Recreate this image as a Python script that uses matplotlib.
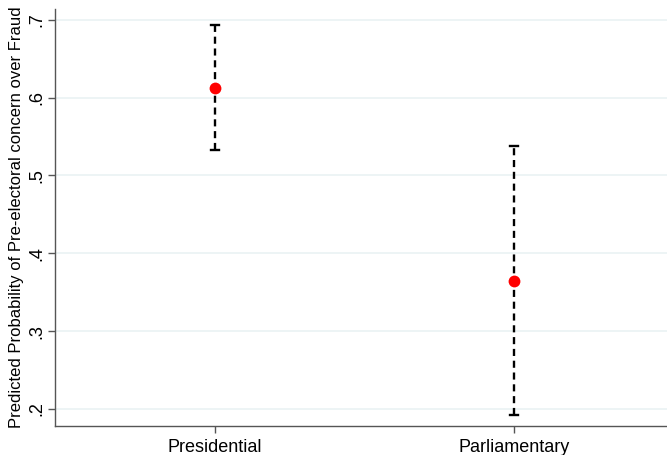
import matplotlib
matplotlib.use("Agg")
import matplotlib.pyplot as plt
import numpy as np

plt.rcParams['font.family'] = ['Liberation Sans', 'DejaVu Sans']

categories = ["Presidential", "Parliamentary"]
estimates = [0.613, 0.365]
lower = [0.533, 0.192]
upper = [0.694, 0.538]

yticks = [0.2, 0.3, 0.4, 0.5, 0.6, 0.7]
yticklabels = [".2", ".3", ".4", ".5", ".6", ".7"]

fig = plt.figure(figsize=(6.67, 4.55), dpi=100)
ax = fig.add_axes([55/667, 1 - 426/455, 1 - 55/667, (426 - 9)/455])

x = np.arange(1, len(categories) + 1)
est = np.array(estimates)
lo = np.array(lower)
hi = np.array(upper)

for xi, l, h in zip(x, lo, hi):
    ax.plot([xi, xi], [l, h], color='black', lw=1.7, dashes=(3.0, 2.0), zorder=2)
    ax.plot([xi - 0.013, xi + 0.013], [h, h], color='black', lw=1.7, zorder=2)
    ax.plot([xi - 0.013, xi + 0.013], [l, l], color='black', lw=1.7, zorder=2)
ax.plot(x, est, 'o', color='#ff0000', markersize=8.5, zorder=3, markeredgewidth=0)

ax.set_xlim(0.465, 2.51)
ax.set_ylim(0.178, 0.714)
ax.set_yticks(yticks)
ax.set_yticklabels(yticklabels, rotation=90, va='center', fontsize=13)
ax.set_xticks(x)
ax.set_xticklabels(categories, fontsize=13)
ax.set_ylabel("Predicted Probability of Pre-electoral concern over Fraud", fontsize=12, labelpad=3)

ax.grid(axis='y', color='#eaf2f3', lw=1.2)
ax.set_axisbelow(True)
for s in ['top', 'right']:
    ax.spines[s].set_visible(False)
for s in ['left', 'bottom']:
    ax.spines[s].set_color('#555555')
    ax.spines[s].set_linewidth(1.0)
ax.tick_params(axis='both', colors='#555555', length=5, width=1.0, labelcolor='black')
ax.tick_params(axis='y', pad=2)
ax.tick_params(axis='x', pad=4)

fig.savefig("out.png", dpi=100)
